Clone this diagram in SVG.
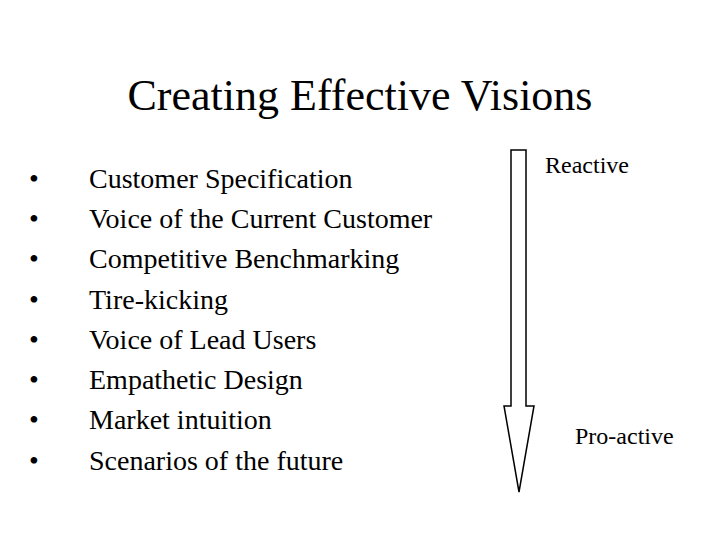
<svg xmlns="http://www.w3.org/2000/svg" width="720" height="540" viewBox="0 0 720 540">
<style>text{font-family:"Liberation Serif",serif;fill:#000}</style>
<rect width="720" height="540" fill="#fff"/>
<text x="360" y="110" font-size="44" text-anchor="middle">Creating Effective Visions</text>
<g id="list" font-size="28">
<text x="29" y="188">•</text><text x="89" y="188">Customer Specification</text>
<text x="29" y="228">•</text><text x="89" y="228">Voice of the Current Customer</text>
<text x="29" y="268">•</text><text x="89" y="268">Competitive Benchmarking</text>
<text x="29" y="309">•</text><text x="89" y="309">Tire-kicking</text>
<text x="29" y="349">•</text><text x="89" y="349">Voice of Lead Users</text>
<text x="29" y="389">•</text><text x="89" y="389">Empathetic Design</text>
<text x="29" y="429">•</text><text x="89" y="429">Market intuition</text>
<text x="29" y="470">•</text><text x="89" y="470">Scenarios of the future</text>
</g>
<g id="arrow"><polygon points="511,150 526,150 526,406 534,406 519,492 504,406 511,406" fill="#fff" stroke="#000" stroke-width="1.5"/></g>
<g id="labels" font-size="24"><text x="545" y="173">Reactive</text><text x="575" y="444">Pro-active</text></g>
</svg>
